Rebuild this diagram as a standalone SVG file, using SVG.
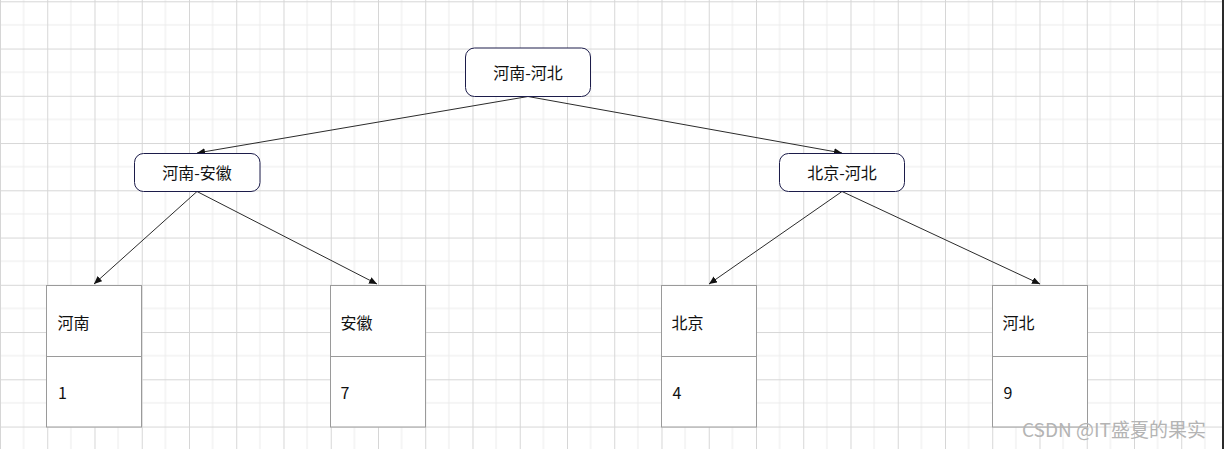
<svg xmlns="http://www.w3.org/2000/svg" width="1224" height="449" viewBox="0 0 1224 449">
<style>
.node rect{fill:#ffffff;stroke:#1c1c4a;stroke-width:1}
.cell rect{fill:#ffffff;stroke:#9a9a9a;stroke-width:1}
.cell line{stroke:#9a9a9a;stroke-width:1}
text{font-family:"Noto Sans CJK SC","Noto Sans",sans-serif;font-size:16px;fill:#111111}
.c{text-anchor:middle}
.edge{stroke:#2b2b2b;stroke-width:1;fill:none;marker-end:url(#arr)}
</style>
<defs>
<pattern id="grid" patternUnits="userSpaceOnUse" x="0" y="1.3" width="47.25" height="47.25">
<path d="M23.625 0V47.25M0 23.625H47.25" stroke="#ebebeb" stroke-width="1" fill="none"/>
<path d="M0.5 0V47.25M0 0.5H47.25" stroke="#d6d6d6" stroke-width="1" fill="none"/>
</pattern>
<marker id="arr" markerUnits="userSpaceOnUse" markerWidth="9" markerHeight="8" refX="8" refY="3.5" orient="auto">
<path d="M0,0 L8,3.5 L0,7 z" fill="#111111"/>
</marker>
</defs>
<rect x="0" y="0" width="1224" height="449" fill="#ffffff"/>
<rect x="0" y="0" width="1222" height="449" fill="url(#grid)"/>
<rect x="1222" y="0" width="2" height="449" fill="#2a2a2a"/>
<g id="connectors">
<line class="edge" x1="528" y1="96.5" x2="197" y2="153"/>
<line class="edge" x1="528" y1="96.5" x2="842" y2="153"/>
<line class="edge" x1="197" y1="191.5" x2="94" y2="284"/>
<line class="edge" x1="197" y1="191.5" x2="377" y2="284"/>
<line class="edge" x1="842" y1="191.5" x2="709" y2="284"/>
<line class="edge" x1="842" y1="191.5" x2="1040" y2="284"/>
</g>
<g id="n-root" class="node"><rect x="465.5" y="48" width="125" height="48.5" rx="9"/><text class="c" x="528" y="78.5">河南-河北</text></g>
<g id="n-left" class="node"><rect x="134.5" y="153.5" width="125.5" height="38" rx="9"/><text class="c" x="197" y="179">河南-安徽</text></g>
<g id="n-right" class="node"><rect x="779.5" y="153.5" width="125" height="38" rx="9"/><text class="c" x="842" y="179">北京-河北</text></g>
<g id="b-henan" class="cell"><rect x="46.5" y="285.5" width="95" height="141.5"/><line x1="46.5" y1="356.5" x2="141.5" y2="356.5"/><text x="57.5" y="329">河南</text><text x="58" y="398.5">1</text></g>
<g id="b-anhui" class="cell"><rect x="330.5" y="285.5" width="95" height="141.5"/><line x1="330.5" y1="356.5" x2="425.5" y2="356.5"/><text x="340.5" y="329">安徽</text><text x="340.5" y="398.5">7</text></g>
<g id="b-beijing" class="cell"><rect x="661.5" y="285.5" width="95" height="141.5"/><line x1="661.5" y1="356.5" x2="756.5" y2="356.5"/><text x="671.5" y="329">北京</text><text x="672.5" y="398.5">4</text></g>
<g id="b-hebei" class="cell"><rect x="992.5" y="285.5" width="95" height="141.5"/><line x1="992.5" y1="356.5" x2="1087.5" y2="356.5"/><text x="1002.5" y="329">河北</text><text x="1003.5" y="398.5">9</text></g>
<text x="1022" y="437" style="font-size:19px;fill:#b4b4b4">CSDN @IT盛夏的果实</text>
</svg>
